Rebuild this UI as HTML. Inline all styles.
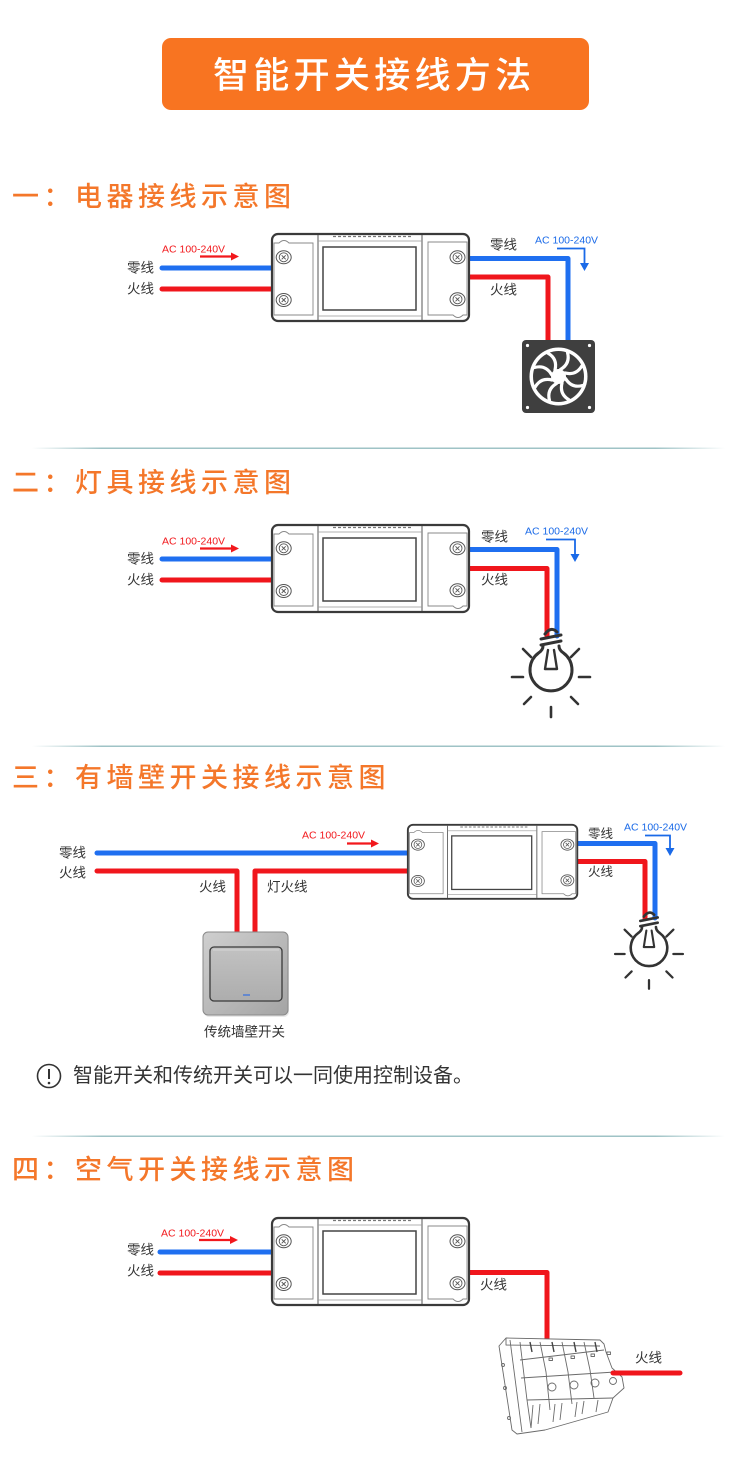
<!DOCTYPE html>
<html><head><meta charset="utf-8">
<style>
html,body{margin:0;padding:0;background:#fff;}
svg{display:block;}
text{font-family:"Liberation Sans","Noto Sans CJK SC",sans-serif;}
.lb{font-size:13.5px;fill:#333;}
.lbs{font-size:12.5px;fill:#333;}
.acr{font-size:10.5px;fill:#f2181c;}
.acb{font-size:10.5px;fill:#1a6ae8;}
.hd{font-size:27px;fill:#f4772a;letter-spacing:4.5px;font-weight:500;}
.wb{stroke:#1f6ff0;stroke-width:5;fill:none;stroke-linecap:round;stroke-linejoin:round;}
.wr{stroke:#f0161c;stroke-width:5;fill:none;stroke-linecap:round;stroke-linejoin:round;}
</style></head><body>
<svg width="750" height="1477" viewBox="0 0 750 1477" xmlns="http://www.w3.org/2000/svg">
<defs>
 <linearGradient id="sep" x1="0" x2="1" y1="0" y2="0">
  <stop offset="0" stop-color="#9fc3c6" stop-opacity="0"/>
  <stop offset="0.1" stop-color="#9fc3c6" stop-opacity="1"/>
  <stop offset="0.9" stop-color="#9fc3c6" stop-opacity="1"/>
  <stop offset="1" stop-color="#9fc3c6" stop-opacity="0"/>
 </linearGradient>
 <linearGradient id="sw" x1="0" y1="0" x2="1" y2="1">
  <stop offset="0" stop-color="#cfcfcf"/>
  <stop offset="1" stop-color="#a4a4a4"/>
 </linearGradient>
 <linearGradient id="rk" x1="0" y1="0" x2="0" y2="1">
  <stop offset="0" stop-color="#c2c2c2"/>
  <stop offset="1" stop-color="#adadad"/>
 </linearGradient>
 <g id="scr">
  <ellipse rx="7.5" ry="6.5" fill="#fff" stroke="#555" stroke-width="1"/>
  <circle r="4.5" fill="none" stroke="#555" stroke-width="0.9"/>
  <path d="M-2,-2 L2,2 M2,-2 L-2,2" stroke="#555" stroke-width="0.9"/>
 </g>
 <g id="mod">
  <rect x="1" y="1" width="197" height="87" rx="6" fill="#fff" stroke="#3a3a3a" stroke-width="2.2"/>
  <line x1="47" y1="2" x2="47" y2="87" stroke="#555" stroke-width="1"/>
  <line x1="151" y1="2" x2="151" y2="87" stroke="#555" stroke-width="1"/>
  <path d="M3,10 H8 Q13,5 18,10 H42 V82 H3 Z" fill="none" stroke="#888" stroke-width="0.9"/>
  <path d="M157,9 H196 V82 H192 Q187,87 182,82 H157 Z" fill="none" stroke="#888" stroke-width="0.9"/>
  <line x1="47" y1="8" x2="151" y2="8" stroke="#999" stroke-width="0.8"/>
  <line x1="47" y1="83" x2="151" y2="83" stroke="#999" stroke-width="0.8"/>
  <line x1="62" y1="3.5" x2="140" y2="3.5" stroke="#777" stroke-width="1.2" stroke-dasharray="3 2"/>
  <rect x="52" y="14" width="93" height="63" fill="none" stroke="#444" stroke-width="1.5"/>
  <use href="#scr" x="12.7" y="24.3"/>
  <use href="#scr" x="12.7" y="67"/>
  <use href="#scr" x="186.5" y="24.3"/>
  <use href="#scr" x="186.5" y="66.3"/>
 </g>
 <g id="bulb" fill="none" stroke="#333" stroke-width="3" stroke-linecap="round" stroke-linejoin="round">
  <path d="M-8,-31 Q-8,-27 -12.5,-24 A21 21 0 1 0 12.5,-24 Q8,-27 8,-31"/>
  <path d="M-10,-32 L10,-36 M-10,-38 L10,-42"/>
  <path d="M-6,-43 Q0,-51 6,-45"/>
  <path d="M-6,-8 L-3,-27 M6,-8 L3,-27 M-6,-8 L6,-8" stroke-width="2.4"/>
  <path d="M28,0 L39,0 M-28,0 L-39,0 M0,30 L0,40 M20,20 L27,27 M-20,20 L-27,27 M20,-20 L28,-28 M-20,-20 L-28,-28" stroke-width="2.6"/>
 </g>
</defs>

<!-- Title -->
<rect x="162" y="38" width="427" height="72" rx="9" fill="#f87421"/>
<text x="213" y="75" dominant-baseline="central" style="font-size:36px;fill:#fff;letter-spacing:4.3px;font-weight:500;">智能开关接线方法</text>

<!-- Section 1 -->
<text class="hd" x="12" y="197" dominant-baseline="central">一：电器接线示意图</text>
<path class="wb" d="M162,268 H272"/>
<path class="wr" d="M162,289 H272"/>
<path class="wb" d="M468,258.5 H568 V342"/>
<path class="wr" d="M468,277 H548 V342"/>
<use href="#mod" x="271" y="233"/>
<text class="lb" x="127" y="268" dominant-baseline="central">零线</text>
<text class="lb" x="127" y="289" dominant-baseline="central">火线</text>
<text class="lb" x="490" y="245" dominant-baseline="central">零线</text>
<text class="lb" x="490" y="290" dominant-baseline="central">火线</text>
<text class="acr" x="162" y="252.5">AC 100-240V</text>
<path d="M200,256.5 H232" stroke="#f2181c" stroke-width="2.2"/>
<polygon points="231,252.5 239,256.5 231,260.5" fill="#f2181c"/>
<text class="acb" x="535" y="243.5">AC 100-240V</text>
<path d="M557,248.5 H584.5 V264" stroke="#1a6ae8" stroke-width="1.8" fill="none"/>
<polygon points="580,263 589,263 584.5,271" fill="#1a6ae8"/>
<!-- fan -->
<rect x="522" y="340" width="73" height="73" rx="4" fill="#3f3f3f"/>
<circle cx="527.5" cy="345.5" r="1.6" fill="#fff"/>
<circle cx="589.5" cy="345.5" r="1.6" fill="#fff"/>
<circle cx="527.5" cy="407.5" r="1.6" fill="#fff"/>
<circle cx="589.5" cy="407.5" r="1.6" fill="#fff"/>
<g transform="translate(558.5,376.5)">
 <circle r="29" fill="#fff"/>
 <circle r="25.5" fill="#3f3f3f"/>
 <g stroke="#fff" stroke-width="3.2" fill="none" stroke-linecap="round">
  <path d="M2,-7 Q12,-13 9,-24"/>
  <path d="M2,-7 Q12,-13 9,-24" transform="rotate(45)"/>
  <path d="M2,-7 Q12,-13 9,-24" transform="rotate(90)"/>
  <path d="M2,-7 Q12,-13 9,-24" transform="rotate(135)"/>
  <path d="M2,-7 Q12,-13 9,-24" transform="rotate(180)"/>
  <path d="M2,-7 Q12,-13 9,-24" transform="rotate(225)"/>
  <path d="M2,-7 Q12,-13 9,-24" transform="rotate(270)"/>
  <path d="M2,-7 Q12,-13 9,-24" transform="rotate(315)"/>
 </g>
 <circle r="7.5" fill="#fff"/>
</g>

<rect x="32" y="447.5" width="693" height="1.5" fill="url(#sep)"/>

<!-- Section 2 -->
<text class="hd" x="12" y="483" dominant-baseline="central">二：灯具接线示意图</text>
<path class="wb" d="M162,559 H272"/>
<path class="wr" d="M162,580 H272"/>
<path class="wb" d="M468,549.5 H557 V636"/>
<path class="wr" d="M468,568.5 H547 V636"/>
<use href="#mod" x="271" y="524"/>
<text class="lb" x="127" y="559" dominant-baseline="central">零线</text>
<text class="lb" x="127" y="580" dominant-baseline="central">火线</text>
<text class="lb" x="481" y="537" dominant-baseline="central">零线</text>
<text class="lb" x="481" y="580" dominant-baseline="central">火线</text>
<text class="acr" x="162" y="544.5">AC 100-240V</text>
<path d="M200,548.5 H232" stroke="#f2181c" stroke-width="2.2"/>
<polygon points="231,544.5 239,548.5 231,552.5" fill="#f2181c"/>
<text class="acb" x="525" y="534.5">AC 100-240V</text>
<path d="M546,539.5 H575 V555" stroke="#1a6ae8" stroke-width="1.8" fill="none"/>
<polygon points="570.5,554 579.5,554 575,562" fill="#1a6ae8"/>
<use href="#bulb" transform="translate(551,677)"/>

<rect x="32" y="745.5" width="693" height="1.5" fill="url(#sep)"/>

<!-- Section 3 -->
<text class="hd" x="12" y="778" dominant-baseline="central">三：有墙壁开关接线示意图</text>
<path class="wb" d="M97,853 H409"/>
<path class="wr" d="M97,871 H237 V932"/>
<path class="wr" d="M255,932 V871 H409"/>
<path class="wb" d="M576,843.5 H655 V918"/>
<path class="wr" d="M576,861.5 H645 V918"/>
<use href="#mod" transform="translate(407,824) scale(0.86,0.85)"/>
<text class="lb" x="59" y="853" dominant-baseline="central">零线</text>
<text class="lb" x="59" y="873" dominant-baseline="central">火线</text>
<text class="lb" x="199" y="887" dominant-baseline="central">火线</text>
<text class="lb" x="267" y="887" dominant-baseline="central">灯火线</text>
<text class="lbs" x="588" y="834" dominant-baseline="central">零线</text>
<text class="lbs" x="588" y="872" dominant-baseline="central">火线</text>
<text class="acr" x="302" y="838.5">AC 100-240V</text>
<path d="M347,843.5 H372" stroke="#f2181c" stroke-width="2.2"/>
<polygon points="371,839.5 379,843.5 371,847.5" fill="#f2181c"/>
<text class="acb" x="624" y="830.5">AC 100-240V</text>
<path d="M645,835.5 H670 V849" stroke="#1a6ae8" stroke-width="1.8" fill="none"/>
<polygon points="665.5,848 674.5,848 670,856" fill="#1a6ae8"/>
<use href="#bulb" transform="translate(649,954) scale(0.87)"/>
<!-- wall switch -->
<rect x="204" y="934" width="85" height="83" rx="5" fill="#d8d8d8" opacity="0.6"/>
<rect x="203" y="932" width="85" height="83" rx="5" fill="url(#sw)" stroke="#8a8a8a" stroke-width="1"/>
<rect x="210" y="947" width="72" height="54" rx="4" fill="url(#rk)" stroke="#3a3a3a" stroke-width="1.3"/>
<line x1="213" y1="950" x2="279" y2="950" stroke="#d6d6d6" stroke-width="1"/>
<line x1="243" y1="995" x2="250" y2="995" stroke="#4a7ad8" stroke-width="1.5"/>
<text class="lb" x="204" y="1032" dominant-baseline="central">传统墙壁开关</text>

<!-- note -->
<circle cx="49" cy="1076" r="11.5" fill="none" stroke="#333" stroke-width="1.6"/>
<line x1="49" y1="1069" x2="49" y2="1079" stroke="#333" stroke-width="2"/>
<circle cx="49" cy="1083" r="1.3" fill="#333"/>
<text x="73" y="1076" dominant-baseline="central" style="font-size:20px;fill:#333;">智能开关和传统开关可以一同使用控制设备。</text>

<rect x="32" y="1135.5" width="693" height="1.5" fill="url(#sep)"/>

<!-- Section 4 -->
<text class="hd" x="12" y="1170" dominant-baseline="central">四：空气开关接线示意图</text>
<path class="wb" d="M160,1252 H272"/>
<path class="wr" d="M160,1273 H272"/>
<path class="wr" d="M468,1272.5 H547 V1342"/>
<use href="#mod" x="271" y="1217"/>
<text class="lb" x="127" y="1250" dominant-baseline="central">零线</text>
<text class="lb" x="127" y="1271" dominant-baseline="central">火线</text>
<text class="lb" x="480" y="1285" dominant-baseline="central">火线</text>
<text class="acr" x="161" y="1236.5">AC 100-240V</text>
<path d="M199,1240 H231" stroke="#f2181c" stroke-width="2.2"/>
<polygon points="230,1236 238,1240 230,1244" fill="#f2181c"/>
<!-- breaker -->
<g fill="none" stroke="#6a6a6a" stroke-width="0.9" stroke-linejoin="round">
 <path d="M499,1346 L506,1338 L600,1340 L604,1344 L606,1352 L612,1368 L622,1377 L624,1388 L613,1398 L608,1412 L545,1430 L517,1434 L512,1430 Z" fill="#fff"/>
 <path d="M510,1340 L522,1432"/>
 <path d="M520,1342 L527,1400 L531,1428"/>
 <path d="M540,1342 L546,1372 L550,1410"/>
 <path d="M562,1342 L568,1372 L572,1404"/>
 <path d="M584,1342 L590,1370 L594,1398"/>
 <path d="M520,1360 L604,1350"/>
 <path d="M521,1378 L615,1372"/>
 <path d="M527,1400 L613,1398"/>
 <path d="M506,1338 L506,1345 L600,1346"/>
 <circle cx="552" cy="1387" r="4"/>
 <circle cx="574" cy="1385" r="4"/>
 <circle cx="595" cy="1383" r="4"/>
 <circle cx="613" cy="1381" r="3.5"/>
 <rect x="549" y="1358" width="3.5" height="2.5"/>
 <rect x="571" y="1356" width="3.5" height="2.5"/>
 <rect x="591" y="1354" width="3.5" height="2.5"/>
 <rect x="607" y="1352" width="3.5" height="2.5"/>
 <path d="M533,1405 L531,1428 M540,1404 L538,1424 M555,1404 L553,1422 M562,1403 L560,1420 M577,1402 L575,1417 M584,1401 L582,1414 M598,1400 L596,1412"/>
 <circle cx="503" cy="1365" r="1.5"/>
 <circle cx="505" cy="1388" r="1.5"/>
 <circle cx="509" cy="1418" r="1.5"/>
 <path d="M530,1342 L532,1352 M552,1342 L554,1352 M574,1342 L576,1352 M595,1342 L597,1352" stroke="#444" stroke-width="1.4"/>
</g>
<path class="wr" d="M613,1373 H680"/>
<text class="lb" x="635" y="1358" dominant-baseline="central">火线</text>
</svg>
</body></html>
